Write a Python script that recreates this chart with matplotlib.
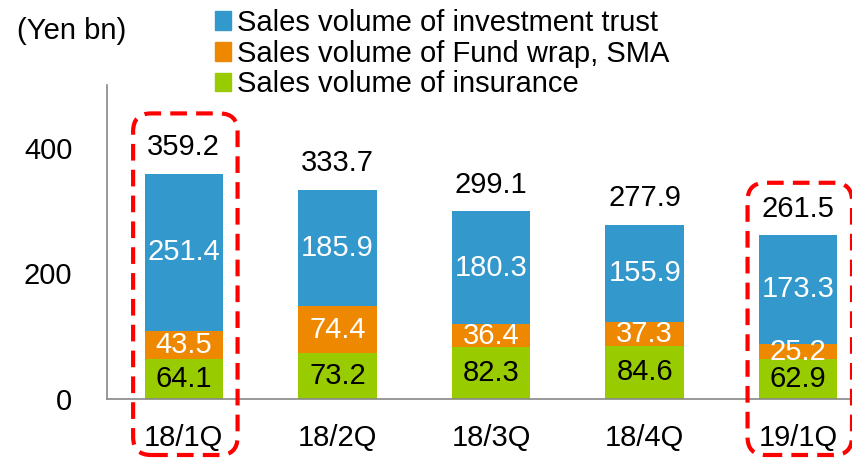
import matplotlib.pyplot as plt
from matplotlib.patches import FancyBboxPatch, Patch
from matplotlib.transforms import IdentityTransform

plt.rcParams['font.family'] = ['Liberation Sans', 'DejaVu Sans']

quarters = ["18/1Q", "18/2Q", "18/3Q", "18/4Q", "19/1Q"]
insurance = [64.1, 73.2, 82.3, 84.6, 62.9]
fund_wrap = [43.5, 74.4, 36.4, 37.3, 25.2]
invest_trust = [251.4, 185.9, 180.3, 155.9, 173.3]
totals = [359.2, 333.7, 299.1, 277.9, 261.5]
highlighted = [0, 4]

c_blue = "#3399CC"
c_orange = "#EE8800"
c_green = "#99CC00"
fs = 21

fig = plt.figure(figsize=(8.53, 4.58), dpi=100)
ax = fig.add_axes([107 / 853, 1 - 399 / 458, 745 / 853, 314 / 458])

x = list(range(len(quarters)))
w = 0.51
ax.bar(x, insurance, w, color=c_green)
ax.bar(x, fund_wrap, w, bottom=insurance, color=c_orange)
bott = [a + b for a, b in zip(insurance, fund_wrap)]
ax.bar(x, invest_trust, w, bottom=bott, color=c_blue)

for i in x:
    ax.text(i, insurance[i] / 2, f"{insurance[i]:.1f}", ha="center", va="center",
            fontsize=fs, color="black")
    ax.text(i, insurance[i] + fund_wrap[i] / 2, f"{fund_wrap[i]:.1f}", ha="center",
            va="center", fontsize=fs, color="white")
    ax.text(i, bott[i] + invest_trust[i] / 2, f"{invest_trust[i]:.1f}", ha="center",
            va="center", fontsize=fs, color="white")
    ax.annotate(f"{totals[i]:.1f}", (i, totals[i]), xytext=(0, 26),
                textcoords="offset pixels", ha="center", va="center", fontsize=fs)

ax.set_xlim(-0.5, 4.35)
ax.set_ylim(0, 500)
ax.set_yticks([0, 200, 400])
ax.set_xticks(x)
ax.set_xticklabels(quarters)
ax.tick_params(axis="both", length=0, labelsize=fs)
ax.tick_params(axis="y", pad=25)
ax.tick_params(axis="x", pad=18)
for s in ["top", "right"]:
    ax.spines[s].set_visible(False)
for s in ["left", "bottom"]:
    ax.spines[s].set_color("#888888")
    ax.spines[s].set_linewidth(1.2)

fig.text(17 / 853, 1 - 31 / 458, "(Yen bn)", fontsize=fs, ha="left", va="center")

handles = [Patch(color=c_blue), Patch(color=c_orange), Patch(color=c_green)]
labels = ["Sales volume of investment trust", "Sales volume of Fund wrap, SMA",
          "Sales volume of insurance"]
fig.legend(handles, labels, loc="upper left", bbox_to_anchor=(203 / 853, 1 + 3 / 458),
           frameon=False, fontsize=fs, handlelength=0.55, handleheight=0.6,
           handletextpad=0.2, labelspacing=0.1, borderaxespad=0)

# dashed rounded boxes around highlighted quarters
top_pad = [60, 52]
for k, i in enumerate(highlighted):
    x0, y0 = ax.transData.transform((i - 0.33, 0))
    x1, y1 = ax.transData.transform((i + 0.35, totals[i]))
    box = FancyBboxPatch((x0, 3), x1 - x0, (y1 + top_pad[k]) - 3,
                         boxstyle="round,pad=0,rounding_size=18",
                         fill=False, edgecolor="#FF0000", linewidth=3,
                         linestyle=(0, (4, 2.2)), transform=IdentityTransform(),
                         clip_on=False)
    fig.patches.append(box)

fig.savefig("out.png", dpi=100)
